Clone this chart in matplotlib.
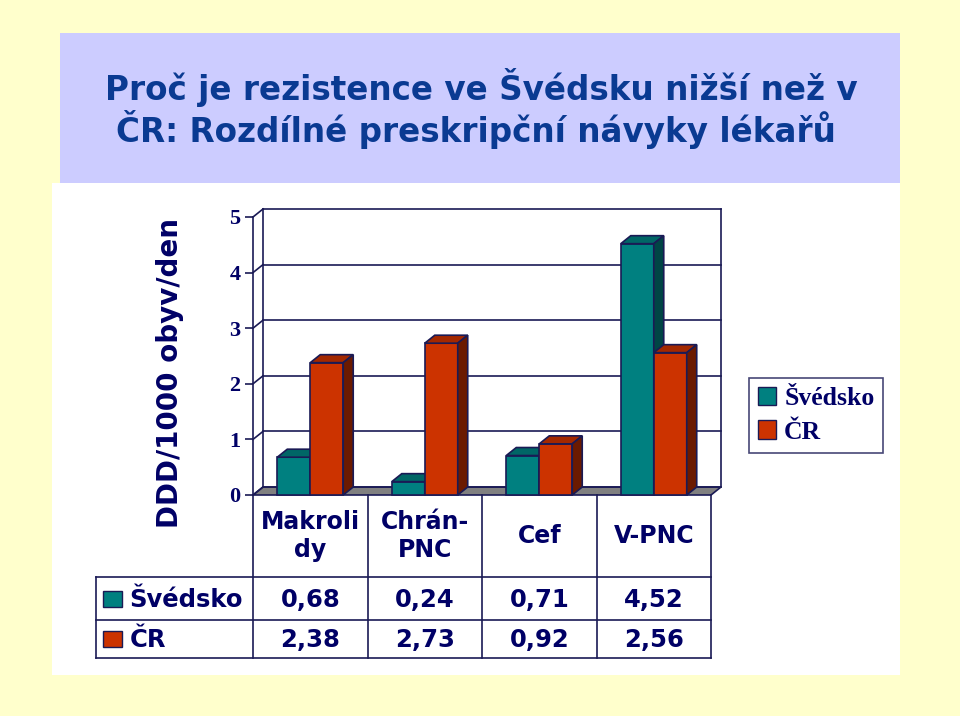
import numpy as np
import matplotlib
matplotlib.use("Agg")
import matplotlib.pyplot as plt
from matplotlib.patches import Rectangle, Polygon, Patch

# data
categories = ["Makroli\ndy", "Chrán-\nPNC", "Cef", "V-PNC"]
series_names = ["Švédsko", "ČR"]
sweden = [0.68, 0.24, 0.71, 4.52]
czech = [2.38, 2.73, 0.92, 2.56]
sweden_txt = ["0,68", "0,24", "0,71", "4,52"]
czech_txt = ["2,38", "2,73", "0,92", "2,56"]
yticks = [0, 1, 2, 3, 4, 5]

# colours
NAVY = "#000066"
EDGE = "#1a1a55"
TEAL = ("#008080", "#006666", "#004545")   # front, top, side
RED = ("#cc3300", "#a32800", "#6b1a00")

W, H = 960, 716
fig = plt.figure(figsize=(W / 100, H / 100), dpi=100, facecolor="#ffffcc")


def fx(px):
    return px / W


def fy(py):
    return 1 - py / H


# background panels
fig.patches.append(Rectangle((fx(52), fy(675)), fx(900) - fx(52), fy(183) - fy(675),
                             transform=fig.transFigure, facecolor="white", edgecolor="none", zorder=-2))
fig.patches.append(Rectangle((fx(60), fy(183)), fx(900) - fx(60), fy(33) - fy(183),
                             transform=fig.transFigure, facecolor="#ccccff", edgecolor="none", zorder=-2))

title_font = dict(family="DejaVu Sans", weight="bold", color="#0a3a92", fontsize=23.5)
fig.text(fx(481), fy(100), "Proč je rezistence ve Švédsku nižší než v",
         ha="center", va="baseline", **title_font)
fig.text(fx(476), fy(142), "ČR: Rozdílné preskripční návyky lékařů",
         ha="center", va="baseline", **title_font)

# main plot axes (front plane)
ax = fig.add_axes([fx(253), fy(495), fx(711) - fx(253), fy(217) - fy(495)])
ax.set_xlim(0, len(categories))
ax.set_ylim(0, 5)
ax.patch.set_visible(False)
for s in ["top", "right", "bottom"]:
    ax.spines[s].set_visible(False)
ax.spines["left"].set_color(EDGE)
ax.spines["left"].set_linewidth(1.2)
ax.set_xticks([])
ax.set_yticks(yticks)
ax.set_yticklabels([str(t) for t in yticks], family="Liberation Serif",
                   weight="bold", fontsize=16, color=NAVY)
ax.tick_params(axis="y", direction="out", length=6, width=1.2, color=EDGE, pad=3)

# depth offset in data units (10 px right, 8 px up)
ppx = (fx(711) - fx(253)) * W / len(categories)
ppy = (fy(217) - fy(495)) * H / 5
DX, DY = 10 / ppx, 8 / ppy
n = len(categories)

# floor
ax.add_patch(Polygon([(0, 0), (n, 0), (n + DX, DY), (DX, DY)], closed=True,
                     facecolor="#808080", edgecolor=EDGE, lw=1.2, clip_on=False, zorder=1))
# back wall grid + side wall diagonals
for t in yticks:
    ax.plot([DX, n + DX], [t + DY, t + DY], color=EDGE, lw=1.2, clip_on=False, zorder=1)
    ax.plot([0, DX], [t, t + DY], color=EDGE, lw=1.2, clip_on=False, zorder=1)
ax.plot([DX, DX], [DY, 5 + DY], color=EDGE, lw=1.2, clip_on=False, zorder=1)
ax.plot([n + DX, n + DX], [DY, 5 + DY], color=EDGE, lw=1.2, clip_on=False, zorder=1)

bw = 0.288


def bar3d(x0, h, cols):
    kw = dict(closed=True, edgecolor=EDGE, lw=1.2, clip_on=False, zorder=3)
    ax.add_patch(Polygon([(x0, 0), (x0 + bw, 0), (x0 + bw, h), (x0, h)], facecolor=cols[0], **kw))
    ax.add_patch(Polygon([(x0, h), (x0 + bw, h), (x0 + bw + DX, h + DY), (x0 + DX, h + DY)],
                         facecolor=cols[1], **kw))
    ax.add_patch(Polygon([(x0 + bw, 0), (x0 + bw + DX, DY), (x0 + bw + DX, h + DY), (x0 + bw, h)],
                         facecolor=cols[2], **kw))


for i in range(n):
    c = i + 0.5
    bar3d(c - bw, sweden[i], TEAL)
    bar3d(c, czech[i], RED)

# data table
tab = fig.add_axes([fx(95.6), fy(658), fx(711) - fx(95.6), fy(495) - fy(658)])
left = -1.375
tab.set_xlim(left, n)
tab.set_ylim(163, 0)
tab.axis("off")
rows = [0, 82, 125, 163]
for x in range(n + 1):
    tab.plot([x, x], [0, 163], color=EDGE, lw=1.2, clip_on=False)
tab.plot([left, left], [82, 163], color=EDGE, lw=1.2, clip_on=False)
for y in rows[1:]:
    tab.plot([left, n], [y, y], color=EDGE, lw=1.2, clip_on=False)

tfont = dict(family="DejaVu Sans", weight="bold", color=NAVY)
for i, cat in enumerate(categories):
    tab.text(i + 0.5, 41, cat, ha="center", va="center", fontsize=17,
             linespacing=1.2, **tfont)
    tab.text(i + 0.5, 105, sweden_txt[i], ha="center", va="center", fontsize=17.5, **tfont)
    tab.text(i + 0.5, 145, czech_txt[i], ha="center", va="center", fontsize=17.5, **tfont)

for name, cols, ym in zip(series_names, [TEAL, RED], [104, 144]):
    tab.add_patch(Rectangle((-1.31, ym - 8), 0.166, 16, facecolor=cols[0],
                            edgecolor=EDGE, lw=1, clip_on=False))
    tab.text(-1.08, ym + 1, name, ha="left", va="center", fontsize=17.5, **tfont)

# y label
fig.text(fx(170), fy(373), "DDD/1000 obyv/den", rotation=90, ha="center", va="center",
         family="DejaVu Sans", weight="bold", fontsize=20, color=NAVY)

# legend
handles = [Patch(facecolor=TEAL[0], edgecolor=EDGE), Patch(facecolor=RED[0], edgecolor=EDGE)]
leg = fig.legend(handles, series_names, loc="upper left",
                 bbox_to_anchor=(fx(749), fy(378)), bbox_transform=fig.transFigure,
                 frameon=True, fancybox=False, borderaxespad=0, handlelength=0.72,
                 handleheight=0.72, handletextpad=0.3, labelspacing=0.4, borderpad=0.35,
                 prop=dict(family="Liberation Serif", weight="bold", size=18.5))
leg.get_frame().set_edgecolor(EDGE)
leg.get_frame().set_linewidth(1.2)
for t in leg.get_texts():
    t.set_color(NAVY)

fig.savefig("out.png", dpi=100, facecolor=fig.get_facecolor())
